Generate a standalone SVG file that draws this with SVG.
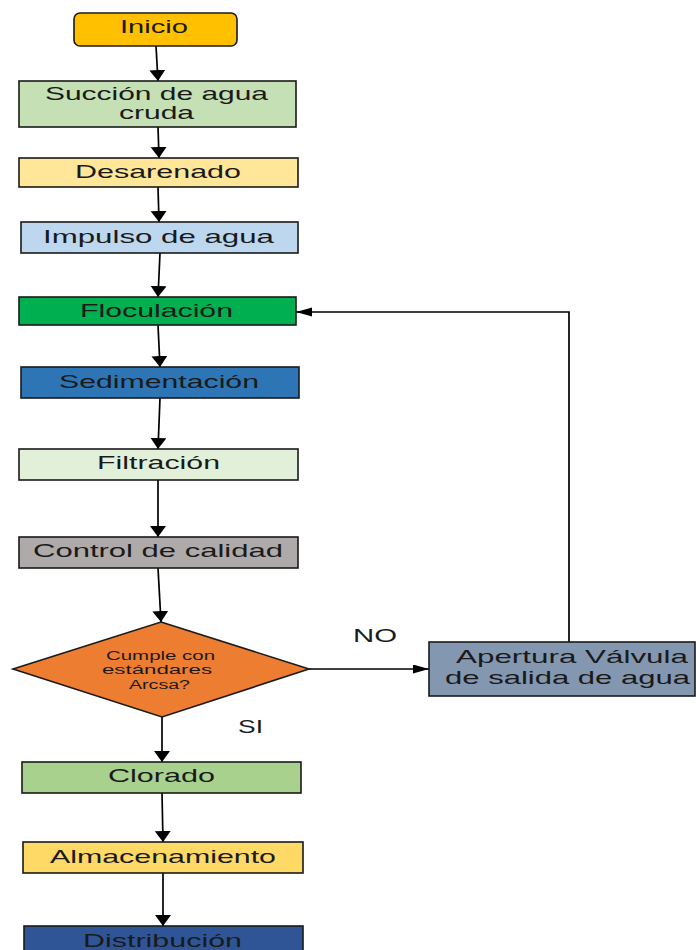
<svg xmlns="http://www.w3.org/2000/svg" width="696" height="950" viewBox="0 0 696 950">
<defs>
<style>
.b{stroke:#1a1a1a;stroke-width:1.6}
.t{font-family:"Liberation Sans",Arial,sans-serif;font-size:19px;fill:#1a1a1a}
.s{font-family:"Liberation Sans",Arial,sans-serif;font-size:12px;fill:#1a1a1a}
.c{stroke:#000;stroke-width:1.7;fill:none;marker-end:url(#av)}
.h{stroke:#000;stroke-width:1.7;fill:none;marker-end:url(#ah)}
</style>
<marker id="av" markerUnits="userSpaceOnUse" markerWidth="18" markerHeight="18" refX="11" refY="8" orient="auto" viewBox="0 0 18 18">
<path d="M0,0 L11,8 L0,16 z" fill="#000"/>
</marker>
<marker id="ah" markerUnits="userSpaceOnUse" markerWidth="18" markerHeight="18" refX="16" refY="4.5" orient="auto" viewBox="0 0 18 18">
<path d="M0,0 L16,4.5 L0,9 z" fill="#000"/>
</marker>
</defs>
<rect width="696" height="950" fill="#fff"/>
<g id="connectors">
<line class="c" x1="156" y1="46" x2="158" y2="81"/>
<line class="c" x1="158" y1="127" x2="159" y2="158"/>
<line class="c" x1="158" y1="187" x2="159" y2="222"/>
<line class="c" x1="160" y1="253" x2="158" y2="297"/>
<line class="c" x1="158" y1="325" x2="160" y2="367"/>
<line class="c" x1="160" y1="398" x2="158" y2="449"/>
<line class="c" x1="158" y1="480" x2="158" y2="537"/>
<line class="c" x1="158" y1="568" x2="161" y2="622"/>
<line class="c" x1="162" y1="717" x2="162" y2="762"/>
<line class="c" x1="162" y1="793" x2="163" y2="842"/>
<line class="c" x1="163" y1="873" x2="163" y2="926"/>
<line class="h" x1="309" y1="669" x2="429" y2="669"/>
<polyline class="h" points="569,642 569,312 296,312"/>
<text class="t" x="353" y="642" font-size="17" textLength="44" lengthAdjust="spacingAndGlyphs">NO</text>
<text class="t" x="238" y="733" font-size="17" textLength="25" lengthAdjust="spacingAndGlyphs">SI</text>
</g>
<g id="inicio">
<rect class="b" x="74" y="13" width="163" height="33" rx="6" fill="#FFC000"/>
<text class="t" x="120" y="33" textLength="68" lengthAdjust="spacingAndGlyphs">Inicio</text>
</g>
<g id="succion">
<rect class="b" x="19" y="81" width="277" height="46" fill="#C5E0B4"/>
<text class="t" x="45" y="100" textLength="223" lengthAdjust="spacingAndGlyphs">Succión de agua</text>
<text class="t" x="119" y="119" textLength="75" lengthAdjust="spacingAndGlyphs">cruda</text>
</g>
<g id="desarenado">
<rect class="b" x="19" y="158" width="279" height="29" fill="#FFE699"/>
<text class="t" x="75" y="178" textLength="166" lengthAdjust="spacingAndGlyphs">Desarenado</text>
</g>
<g id="impulso">
<rect class="b" x="21" y="222" width="277" height="31" fill="#BDD7EE"/>
<text class="t" x="43" y="243" textLength="231" lengthAdjust="spacingAndGlyphs">Impulso  de  agua</text>
</g>
<g id="floculacion">
<rect class="b" x="19" y="297" width="277" height="28" fill="#00B050"/>
<text class="t" x="80" y="317" textLength="153" lengthAdjust="spacingAndGlyphs">Floculación</text>
</g>
<g id="sedimentacion">
<rect class="b" x="21" y="367" width="278" height="31" fill="#2E75B6"/>
<text class="t" x="59" y="388" textLength="200" lengthAdjust="spacingAndGlyphs">Sedimentación</text>
</g>
<g id="filtracion">
<rect class="b" x="19" y="449" width="279" height="31" fill="#E2F0D9"/>
<text class="t" x="97" y="469" textLength="123" lengthAdjust="spacingAndGlyphs">Filtración</text>
</g>
<g id="control">
<rect class="b" x="19" y="537" width="279" height="31" fill="#AEAAAA"/>
<text class="t" x="33" y="557" textLength="250" lengthAdjust="spacingAndGlyphs">Control de calidad</text>
</g>
<g id="decision">
<polygon class="b" points="161,622 309,669 162,717 13,669" fill="#ED7D31"/>
<text class="s" x="106" y="660" textLength="109" lengthAdjust="spacingAndGlyphs">Cumple con</text>
<text class="s" x="102" y="674" textLength="110" lengthAdjust="spacingAndGlyphs">estándares</text>
<text class="s" x="129" y="689" textLength="61" lengthAdjust="spacingAndGlyphs">Arcsa?</text>
</g>
<g id="apertura">
<rect class="b" x="429" y="642" width="266" height="54" fill="#8497B0"/>
<text class="t" x="456" y="663" textLength="232" lengthAdjust="spacingAndGlyphs">Apertura  Válvula</text>
<text class="t" x="445" y="684" textLength="245" lengthAdjust="spacingAndGlyphs">de salida de agua</text>
</g>
<g id="clorado">
<rect class="b" x="22" y="762" width="279" height="31" fill="#A9D18E"/>
<text class="t" x="108" y="782" textLength="107" lengthAdjust="spacingAndGlyphs">Clorado</text>
</g>
<g id="almacenamiento">
<rect class="b" x="23" y="842" width="280" height="31" fill="#FFD966"/>
<text class="t" x="50" y="863" textLength="226" lengthAdjust="spacingAndGlyphs">Almacenamiento</text>
</g>
<g id="distribucion">
<rect class="b" x="24" y="926" width="279" height="34" fill="#2F5597"/>
<text class="t" x="83" y="947" textLength="159" lengthAdjust="spacingAndGlyphs">Distribución</text>
</g>
</svg>
